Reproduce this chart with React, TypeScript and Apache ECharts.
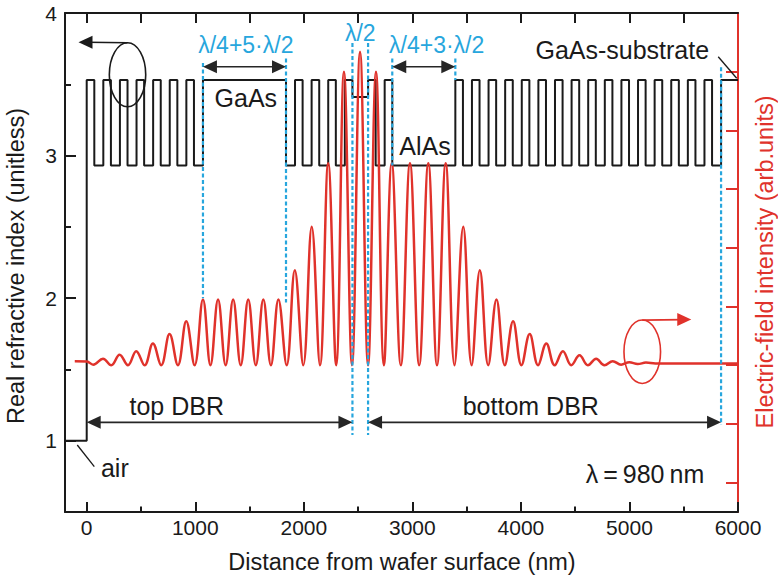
import React, { useEffect, useRef } from "react";
import * as echarts from "echarts";

const FONT = '"Liberation Sans", Arial, Helvetica, sans-serif';
const INK = "#1a1a1a";
const ARROW_INK = "#262626";
const FIELD_RED = "#e0322b";
const GUIDE_BLUE = "#27a6dd";

// Axis ticks
const xMajorTicks = [0, 1000, 2000, 3000, 4000, 5000, 6000];
const xMinorTicks = [500, 1500, 2500, 3500, 4500, 5500];
const xTopTicks = [0, 500, 1000, 1500, 2000, 2500, 3000, 3500, 4000, 4500, 5000, 5500];
const nMajorTicks = [1, 2, 3, 4];
const nMinorTicks = [1.5, 2.5, 3.5];
const fieldTicks = [-2, -1, 0, 1, 2, 3, 4, 5];

// Refractive index and thickness (nm) of each layer type at λ = 980 nm
const layerTypes: Record<string, { n: number; d: number }> = {
  air: { n: 1.0, d: 200 },
  GaAs: { n: 3.53, d: 70 },
  AlAs: { n: 2.93, d: 83 },
  GaAsSpacer: { n: 3.53, d: 765 },
  cavity: { n: 3.41, d: 144 },
  AlAsSpacer: { n: 2.93, d: 581 },
  substrate: { n: 3.53, d: 156 },
};

// Layer stack from the air side to the substrate
const stackGroups: { layers: string[]; repeat: number }[] = [
  { layers: ["air"], repeat: 1 },
  { layers: ["GaAs", "AlAs"], repeat: 7 },
  { layers: ["GaAsSpacer"], repeat: 1 },
  { layers: ["AlAs", "GaAs"], repeat: 4 },
  { layers: ["cavity"], repeat: 1 },
  { layers: ["GaAs", "AlAs", "GaAs"], repeat: 1 },
  { layers: ["AlAsSpacer"], repeat: 1 },
  { layers: ["GaAs", "AlAs"], repeat: 16 },
  { layers: ["substrate"], repeat: 1 },
];

// Electric-field intensity (arb. units): maxima and minima of the standing wave
const fieldX = [
  -110, 0, 60, 150, 226, 303, 380, 456, 533, 610, 686, 763, 840, 917, 994,
  1071, 1140, 1210, 1280, 1349, 1419, 1488, 1558, 1627, 1697, 1766, 1842,
  1917, 1995, 2073, 2149, 2225, 2298, 2370, 2444, 2518, 2592, 2665, 2738,
  2810, 2894, 2978, 3063, 3147, 3227, 3307, 3388, 3469, 3546, 3622, 3699,
  3775, 3852, 3928, 4005, 4081, 4158, 4234, 4311, 4387, 4464, 4540, 4617,
  4693, 4770, 4846, 4923, 4999, 5076, 5152, 5240, 6000,
];
const fieldI = [
  0.07, 0.065, 0.01, 0.11, 0, 0.18, 0, 0.24, 0, 0.37, 0, 0.53, 0, 0.75, 0,
  1.12, 0, 1.12, 0, 1.12, 0, 1.12, 0, 1.12, 0, 1.12, 0,
  1.62, 0, 2.36, 0, 3.44, 0, 5.0, 0, 5.34, 0, 5.0, 0,
  3.44, 0, 3.44, 0, 3.44, 0, 3.44, 0, 2.36, 0, 1.62, 0,
  1.12, 0, 0.75, 0, 0.53, 0, 0.37, 0, 0.24, 0, 0.17, 0,
  0.11, 0, 0.07, 0.01, 0.05, 0.02, 0.045, 0.03, 0.03,
];

const X_MIN = -200;
const X_MAX = 6000;

function buildStack() {
  const points: [number, number][] = [];
  const groupEnds: number[] = [];
  let x = X_MIN;
  for (const g of stackGroups) {
    for (let r = 0; r < g.repeat; r++) {
      for (const name of g.layers) {
        const { n, d } = layerTypes[name];
        points.push([x, n]);
        x += d;
        points.push([x, n]);
      }
    }
    groupEnds.push(x);
  }
  return { points, groupEnds };
}

const { points: indexProfile, groupEnds } = buildStack();
const fieldData = fieldX.map((x, i) => [x, fieldI[i]]);

const renderAnnotations = (_params: any, api: any) => {
  const P = (x: number, n: number) => api.coord([x, n]) as number[];
  const kids: any[] = [];
  const seg = (a: number[], b: number[], stroke: string, lineWidth: number, dash?: number[]) =>
    kids.push({
      type: "line",
      shape: { x1: a[0], y1: a[1], x2: b[0], y2: b[1] },
      style: { stroke, lineWidth, lineDash: dash, fill: null },
    });
  const head = (tip: number[], dir: number, color: string, len = 14, half = 6.5) =>
    kids.push({
      type: "polygon",
      shape: {
        points: [
          [tip[0], tip[1]],
          [tip[0] - dir * len, tip[1] - half],
          [tip[0] - dir * len, tip[1] + half],
        ],
      },
      style: { fill: color, stroke: null },
    });
  const dblArrow = (x0: number, x1: number, n: number) => {
    const a = P(x0, n);
    const b = P(x1, n);
    seg([a[0] + 8, a[1]], [b[0] - 8, b[1]], ARROW_INK, 1.7);
    head(a, -1, ARROW_INK);
    head(b, 1, ARROW_INK);
  };
  const label = (x: number, n: number, str: string, color: string, size: number) => {
    const p = P(x, n);
    kids.push({
      type: "text",
      x: p[0],
      y: p[1],
      style: {
        text: str,
        fill: color,
        font: `${size}px ${FONT}`,
        align: "center",
        verticalAlign: "middle",
        textAlign: "center",
        textVerticalAlign: "middle",
      },
    });
  };
  const ring = (x: number, n: number, rx: number, ry: number, color: string, dir: number) => {
    const c = P(x, n);
    kids.push({
      type: "ellipse",
      shape: { cx: c[0], cy: c[1], rx, ry },
      style: { fill: null, stroke: color, lineWidth: 1.6 },
    });
    const top = [c[0], c[1] - ry];
    const tip = [c[0] + dir * 49, c[1] - ry - 0.5];
    seg(top, [tip[0] - dir * 8, tip[1]], color, 1.7);
    head(tip, dir, color, 14, 6.5);
  };

  const e = groupEnds;
  // layer-boundary guides
  const guides: [number, number, number][] = [
    [e[1], 3.65, 2.0],
    [e[2], 3.68, 1.97],
    [e[3], 3.79, 1.04],
    [e[4], 3.79, 1.04],
    [e[5], 3.68, 2.93],
    [e[6], 3.68, 3.53],
    [e[7], 3.62, 1.11],
  ];
  for (const [x, n0, n1] of guides) {
    seg(P(x, n0), P(x, n1), GUIDE_BLUE, 2.2, [4, 2.5]);
  }

  // spacer and mirror extents
  dblArrow(e[1], e[2], 3.623);
  dblArrow(e[5], e[6], 3.623);
  dblArrow(e[0], e[3], 1.129);
  dblArrow(e[4], e[7], 1.129);

  label(1466, 3.776, "λ/4+5·λ/2", GUIDE_BLUE, 23);
  label((e[3] + e[4]) / 2, 3.863, "λ/2", GUIDE_BLUE, 23);
  label(3224, 3.776, "λ/4+3·λ/2", GUIDE_BLUE, 23);

  label(1466, 3.404, "GaAs", INK, 25);
  label(3117, 3.066, "AlAs", INK, 25);
  label(4934, 3.74, "GaAs-substrate", INK, 25);
  seg(P(5818, 3.693), P(5988, 3.542), INK, 1.3);
  label(259, 0.811, "air", INK, 25);
  seg(P(-87, 0.97), P(70, 0.818), INK, 1.3);
  label(829, 1.24, "top DBR", INK, 25);
  label(4091, 1.24, "bottom DBR", INK, 25);
  label(5143, 0.765, "λ\u2009=\u2009980\u2009nm", INK, 25);

  // axis assignment markers
  ring(376, 3.567, 18.2, 32, INK, -1);
  ring(5118, 1.624, 18.3, 31.7, FIELD_RED, 1);

  return { type: "group", children: kids };
};

const tickStyle = { color: INK, width: 2 };

const option: any = {
  animation: false,
  grid: { left: 65, top: 13, width: 673, height: 499, containLabel: false },
  xAxis: [
    {
      type: "value",
      min: X_MIN,
      max: X_MAX,
      position: "bottom",
      axisLine: { onZero: false, lineStyle: { color: INK, width: 2 } },
      axisTick: { inside: true, length: 10, customValues: xMajorTicks, lineStyle: tickStyle },
      axisLabel: {
        customValues: xMajorTicks,
        formatter: (v: number) => String(v),
        fontSize: 21,
        fontFamily: FONT,
        color: INK,
        margin: 5,
      },
      splitLine: { show: false },
    },
    {
      type: "value",
      min: X_MIN,
      max: X_MAX,
      position: "bottom",
      axisLine: { show: false, onZero: false },
      axisTick: { inside: true, length: 5.5, customValues: xMinorTicks, lineStyle: tickStyle },
      axisLabel: { show: false },
      splitLine: { show: false },
    },
    {
      type: "value",
      min: X_MIN,
      max: X_MAX,
      position: "top",
      axisLine: { onZero: false, lineStyle: { color: INK, width: 2 } },
      axisTick: { inside: true, length: 10, customValues: xTopTicks, lineStyle: tickStyle },
      axisLabel: { show: false },
      splitLine: { show: false },
    },
  ],
  yAxis: [
    {
      type: "value",
      min: 0.5,
      max: 4,
      position: "left",
      axisLine: { onZero: false, lineStyle: { color: INK, width: 2 } },
      axisTick: { inside: true, length: 11, customValues: nMajorTicks, lineStyle: tickStyle },
      axisLabel: {
        customValues: nMajorTicks,
        formatter: (v: number) => String(v),
        fontSize: 21,
        fontFamily: FONT,
        color: INK,
        margin: 8,
      },
      splitLine: { show: false },
    },
    {
      type: "value",
      min: 0.5,
      max: 4,
      position: "left",
      axisLine: { show: false, onZero: false },
      axisTick: { inside: true, length: 6, customValues: nMinorTicks, lineStyle: tickStyle },
      axisLabel: { show: false },
      splitLine: { show: false },
    },
    {
      type: "value",
      min: -2.5,
      max: 6,
      position: "right",
      axisLine: { onZero: false, lineStyle: { color: FIELD_RED, width: 2 } },
      axisTick: {
        inside: true,
        length: 12,
        customValues: fieldTicks,
        lineStyle: { color: FIELD_RED, width: 2 },
      },
      axisLabel: { show: false },
      splitLine: { show: false },
    },
  ],
  graphic: [
    {
      type: "text",
      x: 16,
      y: 266,
      rotation: Math.PI / 2,
      style: {
        text: "Real refractive index (unitless)",
        fill: INK,
        font: `23.5px ${FONT}`,
        align: "center",
        verticalAlign: "middle",
        textAlign: "center",
        textVerticalAlign: "middle",
      },
    },
    {
      type: "text",
      x: 765,
      y: 262,
      rotation: Math.PI / 2,
      style: {
        text: "Electric-field intensity (arb.units)",
        fill: FIELD_RED,
        font: `23.5px ${FONT}`,
        align: "center",
        verticalAlign: "middle",
        textAlign: "center",
        textVerticalAlign: "middle",
      },
    },
    {
      type: "text",
      x: 402,
      y: 562,
      style: {
        text: "Distance from wafer surface (nm)",
        fill: INK,
        font: `23.5px ${FONT}`,
        align: "center",
        verticalAlign: "middle",
        textAlign: "center",
        textVerticalAlign: "middle",
      },
    },
  ],
  series: [
    {
      name: "Real refractive index",
      type: "line",
      xAxisIndex: 0,
      yAxisIndex: 0,
      data: indexProfile,
      showSymbol: false,
      symbol: "none",
      silent: true,
      lineStyle: { color: INK, width: 2 },
      z: 2,
    },
    {
      name: "Electric-field intensity",
      type: "line",
      xAxisIndex: 0,
      yAxisIndex: 2,
      data: fieldData,
      showSymbol: false,
      symbol: "none",
      smooth: 0.4,
      silent: true,
      lineStyle: { color: FIELD_RED, width: 2.5 },
      z: 3,
    },
    {
      name: "annotations",
      type: "custom",
      xAxisIndex: 0,
      yAxisIndex: 0,
      data: [[0, 1]],
      clip: false,
      silent: true,
      renderItem: renderAnnotations,
      z: 4,
    },
  ],
};

export default function App() {
  const ref = useRef<HTMLDivElement>(null);
  useEffect(() => {
    if (!ref.current) return;
    const chart = echarts.init(ref.current, null, { renderer: "svg" });
    chart.setOption(option);
    return () => chart.dispose();
  }, []);
  return (
    <div
      ref={ref}
      style={{ position: "fixed", left: 0, top: 0, width: 778, height: 579, background: "#fff" }}
    />
  );
}
